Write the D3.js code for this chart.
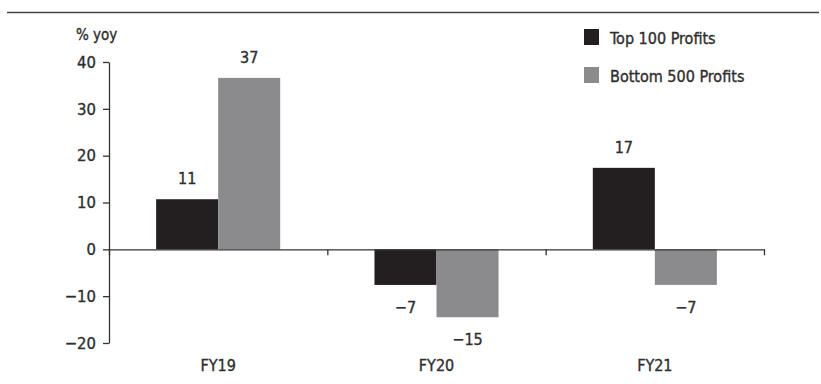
<!DOCTYPE html>
<html><head><meta charset="utf-8">
<script src="https://cdn.jsdelivr.net/npm/d3@7"></script>
<style>
html,body{margin:0;padding:0;background:#fff;}
svg text{font-family:"DejaVu Sans Condensed","Liberation Sans",Arial,sans-serif;fill:#2e2e2e;stroke:#2e2e2e;stroke-width:0.35px;}
</style></head>
<body><svg id="c" width="821" height="384"></svg>
<script>
const categories = ["FY19", "FY20", "FY21"];
const seriesNames = ["Top 100 Profits", "Bottom 500 Profits"];
const top100 = [10.7, -7.6, 17.4];
const bottom500 = [36.6, -14.5, -7.6];
const top100Labels = ["11", "\u22127", "17"];
const bottom500Labels = ["37", "\u221215", "\u22127"];
const yTicks = [-20, -10, 0, 10, 20, 30, 40];
const yUnit = "% yoy";
const colors = ["#231f20", "#8b8b8d"];

const FONT = "'DejaVu Sans Condensed','Liberation Sans',Arial,sans-serif";
const FS = 16;
const svg = d3.select("#c");
const left = 109, right = 764, yTop = 62, yBot = 343;

const y = d3.scaleLinear().domain([-20, 40]).range([yBot, yTop]);
const x0 = d3.scaleBand().domain(categories).range([left, right]).padding(0);
const x1 = d3.scaleBand().domain(seriesNames).range([0, x0.bandwidth()]).paddingInner(0).paddingOuter(0.76);

// top rule
svg.append("line").attr("x1", 7).attr("x2", 819).attr("y1", 12.5).attr("y2", 12.5)
  .attr("stroke", "#444").attr("stroke-width", 1.5);

const rows = categories.map((c, i) => ({
  cat: c,
  vals: [
    {s: seriesNames[0], v: top100[i], l: top100Labels[i], k: 0},
    {s: seriesNames[1], v: bottom500[i], l: bottom500Labels[i], k: 1}
  ]
}));

const g = svg.append("g").selectAll("g").data(rows).join("g")
  .attr("transform", d => `translate(${x0(d.cat)},0)`);
g.selectAll("rect").data(d => d.vals).join("rect")
  .attr("x", d => x1(d.s))
  .attr("width", x1.bandwidth())
  .attr("y", d => y(Math.max(0, d.v)))
  .attr("height", d => Math.abs(y(d.v) - y(0)))
  .attr("fill", d => colors[d.k]);
g.selectAll("text").data(d => d.vals).join("text")
  .attr("x", d => x1(d.s) + x1.bandwidth() / 2)
  .attr("y", d => d.v >= 0 ? y(d.v) - 15 : y(d.v) + 28)
  .attr("text-anchor", "middle")
  .attr("font-size", FS)
  .text(d => d.l);

// y axis
const ya = svg.append("g").attr("transform", `translate(${left},0)`)
  .call(d3.axisLeft(y).tickValues(yTicks).tickSize(6).tickSizeOuter(0).tickPadding(7)
    .tickFormat(d => d < 0 ? "\u2212" + Math.abs(d) : d));
ya.select(".domain").attr("stroke", "#333").attr("stroke-width", 1.3);
ya.selectAll(".tick line").attr("stroke", "#333").attr("stroke-width", 1.3);
ya.selectAll(".tick text").attr("font-size", 16.5).attr("fill", "#2e2e2e")
  .style("font-family", FONT);

// zero line with ticks at band boundaries
const xb = d3.scaleLinear().domain([0, categories.length]).range([left, right]);
const xa = svg.append("g").attr("transform", `translate(0,${y(0)})`)
  .call(d3.axisBottom(xb).ticks(categories.length).tickSize(6).tickSizeOuter(0).tickFormat(""));
xa.select(".domain").attr("stroke", "#333").attr("stroke-width", 1.3);
xa.selectAll(".tick line").attr("stroke", "#333").attr("stroke-width", 1.3);

// category labels
const ca = svg.append("g").attr("transform", `translate(0,${yBot})`)
  .call(d3.axisBottom(x0).tickSize(0).tickPadding(17));
ca.select(".domain").remove();
ca.selectAll(".tick text").attr("font-size", FS).attr("fill", "#2e2e2e")
  .style("font-family", FONT);

// unit label
svg.append("text").attr("x", 76).attr("y", 40).attr("font-size", 15).text(yUnit);

// legend
const lg = svg.append("g").selectAll("g").data(seriesNames).join("g")
  .attr("transform", (d, i) => `translate(584,${29 + i * 38})`);
lg.append("rect").attr("width", 15).attr("height", 16).attr("fill", (d, i) => colors[i]);
lg.append("text").attr("x", 26).attr("y", 15).attr("font-size", FS).text(d => d);
</script></body></html>
